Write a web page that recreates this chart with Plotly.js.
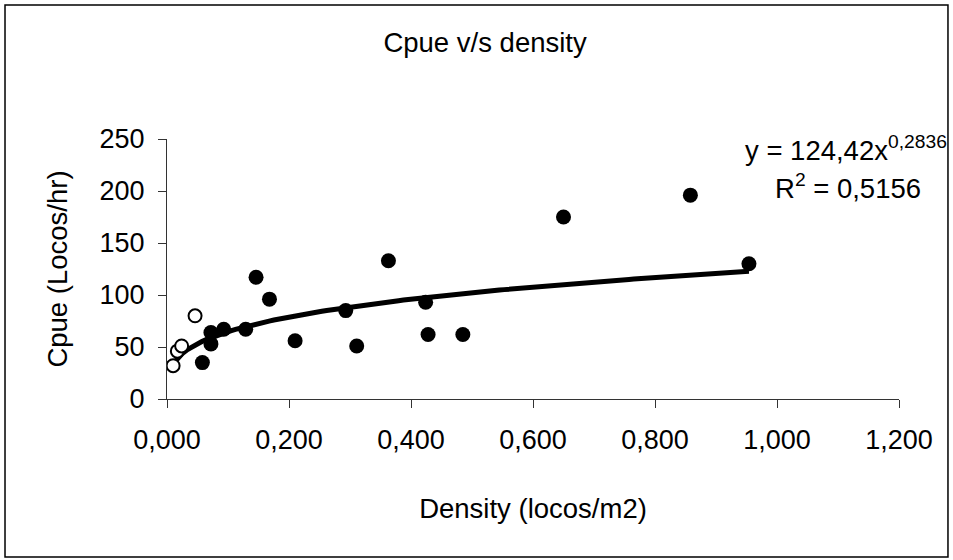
<!DOCTYPE html>
<html>
<head>
<meta charset="utf-8">
<script src="https://cdn.plot.ly/plotly-3.0.1.min.js"></script>
<style>html,body{margin:0;padding:0;background:#fff;}#chart{width:953px;height:560px;}</style>
</head>
<body>
<div id="chart"></div>
<script>
// Open (hollow) circle observations
const openDensity = [0.010, 0.017, 0.024, 0.046];
const openCpue    = [32, 46, 51, 80];
// Filled circle observations
const fillDensity = [0.058, 0.072, 0.072, 0.093, 0.129, 0.146, 0.168, 0.210, 0.293, 0.311, 0.363, 0.424, 0.428, 0.485, 0.650, 0.858, 0.954];
const fillCpue    = [35, 53, 64, 67, 67, 117, 96, 56, 85, 51, 133, 93, 62, 62, 175, 196, 130];
// Power trendline coefficients (as printed on the chart)
const trendA = 124.42;
const trendB = 0.2836;
const trendXmin = 0.010, trendXmax = 0.954;
const xTicks = [0, 0.2, 0.4, 0.6, 0.8, 1.0, 1.2];
const yTicks = [0, 50, 100, 150, 200, 250];

const tx = [], ty = [];
const nT = 120;
for (let i = 0; i <= nT; i++) {
  const x = trendXmin + (trendXmax - trendXmin) * i / nT;
  tx.push(x); ty.push(trendA * Math.pow(x, trendB));
}

const font = 'Liberation Sans, Arial, sans-serif';
const F = 27.5;
const data = [
  {x: tx, y: ty, mode: 'lines', line: {color: '#000', width: 5}, hoverinfo: 'skip', showlegend: false},
  {x: fillDensity, y: fillCpue, mode: 'markers', marker: {symbol: 'circle', size: 15, color: '#000'}, showlegend: false},
  {x: openDensity, y: openCpue, mode: 'markers', marker: {symbol: 'circle', size: 13, color: '#fff', line: {color: '#000', width: 2}}, showlegend: false}
];

const layout = {
  width: 953, height: 560,
  margin: {l: 167, r: 54, t: 139, b: 161},
  paper_bgcolor: '#fff', plot_bgcolor: '#fff',
  separators: ',.',
  font: {family: font, size: F, color: '#000'},
  title: {text: 'Cpue v/s density', font: {family: font, size: F, color: '#000'}, x: 0.509, xref: 'container', y: 0.925, yref: 'container', yanchor: 'middle', xanchor: 'center'},
  xaxis: {
    range: [0, 1.2], tickvals: xTicks, tickformat: '.3f', automargin: false,
    showgrid: false, zeroline: false, showline: true, linecolor: '#333', linewidth: 1,
    ticks: 'outside', ticklen: 8, tickcolor: '#333', tickfont: {family: font, size: 27, color: '#000'},
    ticklabelstandoff: 9,
    title: {text: 'Density (locos/m2)', font: {family: font, size: F, color: '#000'}, standoff: 44}
  },
  yaxis: {
    range: [0, 250], tickvals: yTicks, automargin: false,
    showgrid: false, zeroline: false, showline: true, linecolor: '#333', linewidth: 1,
    ticks: 'outside', ticklen: 8, tickcolor: '#333', tickfont: {family: font, size: 27, color: '#000'},
    ticklabelstandoff: 8,
    title: {text: 'Cpue (Locos/hr)', font: {family: font, size: F, color: '#000'}, standoff: 23}
  },
  annotations: [
    {xref: 'paper', yref: 'paper', x: 0.9276, y: 0.965, xanchor: 'center', yanchor: 'middle', showarrow: false,
     text: 'y = 124,42x<sup>0,2836</sup>', font: {family: font, size: F, color: '#000'}},
    {xref: 'paper', yref: 'paper', x: 0.930, y: 0.818, xanchor: 'center', yanchor: 'middle', showarrow: false,
     text: 'R<sup>2</sup> = 0,5156', font: {family: font, size: F, color: '#000'}}
  ],
  shapes: [
    {type: 'rect', xref: 'paper', yref: 'paper', x0: -0.2213, x1: 1.0669, y0: -0.608, y1: 1.515, line: {color: '#000', width: 1.5}, fillcolor: 'rgba(0,0,0,0)'}
  ]
};

Plotly.newPlot('chart', data, layout, {displayModeBar: false, staticPlot: true});
</script>
</body>
</html>
